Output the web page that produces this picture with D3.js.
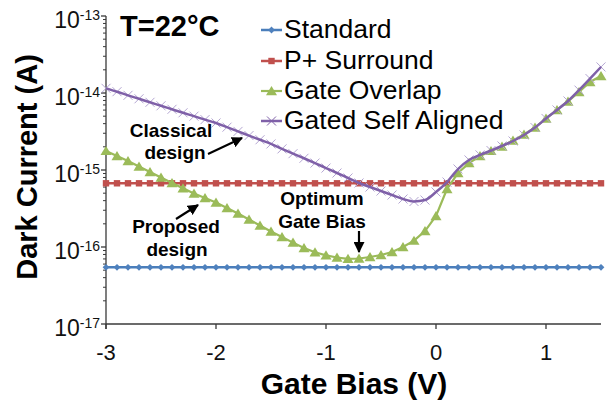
<!DOCTYPE html>
<html>
<head>
<meta charset="utf-8">
<script src="https://cdn.jsdelivr.net/npm/d3@7"></script>
<style>
  html, body { margin: 0; padding: 0; background: #fff; }
  svg { display: block; font-family: "Liberation Sans", Arial, sans-serif; }
</style>
</head>
<body>
<svg id="chart" width="615" height="405"></svg>
<script>
// ---- data ----
const biasV = [-3.0,-2.9,-2.8,-2.7,-2.6,-2.5,-2.4,-2.3,-2.2,-2.1,
               -2.0,-1.9,-1.8,-1.7,-1.6,-1.5,-1.4,-1.3,-1.2,-1.1,
               -1.0,-0.9,-0.8,-0.7,-0.6,-0.5,-0.4,-0.3,-0.2,-0.1,
                0.0, 0.1, 0.2, 0.3, 0.4, 0.5, 0.6, 0.7, 0.8, 0.9,
                1.0, 1.1, 1.2, 1.3, 1.4, 1.5];

const standard = [5.45e-17,5.45e-17,5.45e-17,5.45e-17,5.45e-17,5.45e-17,5.45e-17,5.45e-17,5.45e-17,5.45e-17,
                  5.45e-17,5.45e-17,5.45e-17,5.45e-17,5.45e-17,5.45e-17,5.45e-17,5.45e-17,5.45e-17,5.45e-17,
                  5.45e-17,5.45e-17,5.45e-17,5.45e-17,5.45e-17,5.45e-17,5.45e-17,5.45e-17,5.45e-17,5.45e-17,
                  5.45e-17,5.45e-17,5.45e-17,5.45e-17,5.45e-17,5.45e-17,5.45e-17,5.45e-17,5.45e-17,5.45e-17,
                  5.45e-17,5.45e-17,5.45e-17,5.45e-17,5.45e-17,5.45e-17];

const pSurround = [6.72e-16,6.72e-16,6.72e-16,6.72e-16,6.72e-16,6.72e-16,6.72e-16,6.72e-16,6.72e-16,6.72e-16,
                   6.72e-16,6.72e-16,6.72e-16,6.72e-16,6.72e-16,6.72e-16,6.72e-16,6.72e-16,6.72e-16,6.72e-16,
                   6.72e-16,6.72e-16,6.72e-16,6.72e-16,6.72e-16,6.72e-16,6.72e-16,6.72e-16,6.72e-16,6.72e-16,
                   6.72e-16,6.72e-16,6.72e-16,6.72e-16,6.72e-16,6.72e-16,6.72e-16,6.72e-16,6.72e-16,6.72e-16,
                   6.72e-16,6.72e-16,6.72e-16,6.72e-16,6.72e-16,6.72e-16];

const gateOverlap = [1.77e-15,1.52e-15,1.31e-15,1.11e-15,9.42e-16,7.99e-16,6.78e-16,5.78e-16,4.95e-16,4.33e-16,
                     3.78e-16,3.21e-16,2.72e-16,2.28e-16,1.90e-16,1.59e-16,1.35e-16,1.14e-16,9.70e-17,8.53e-17,
                     7.80e-17,7.31e-17,7.03e-17,7.09e-17,7.42e-17,7.87e-17,8.61e-17,1.00e-16,1.21e-16,1.61e-16,
                     2.53e-16,5.67e-16,9.14e-16,1.23e-15,1.52e-15,1.77e-15,2.02e-15,2.42e-15,2.89e-15,3.56e-15,
                     4.66e-15,6.02e-15,7.76e-15,1.03e-14,1.39e-14,1.66e-14];

const gatedSelfAligned = [1.15e-14,1.04e-14,9.33e-15,8.41e-15,7.57e-15,6.82e-15,6.14e-15,5.53e-15,5.00e-15,4.51e-15,
                          4.08e-15,3.60e-15,3.17e-15,2.80e-15,2.47e-15,2.18e-15,1.88e-15,1.63e-15,1.42e-15,1.23e-15,
                          1.06e-15,9.14e-16,7.87e-16,6.78e-16,6.01e-16,5.33e-16,4.73e-16,4.20e-16,3.90e-16,4.07e-16,
                          5.18e-16,6.98e-16,1.03e-15,1.35e-15,1.57e-15,1.79e-15,2.05e-15,2.38e-15,2.85e-15,3.56e-15,
                          4.67e-15,6.02e-15,7.87e-15,1.09e-14,1.54e-14,2.18e-14];

const seriesNames = ["Standard", "P+ Surround", "Gate Overlap", "Gated Self Aligned"];
const xTicks = [-3, -2, -1, 0, 1];
const xTickLabels = ["-3", "-2", "-1", "0", "1"];
const yTicks = [1e-17, 1e-16, 1e-15, 1e-14, 1e-13];
const yTickExponents = ["-17", "-16", "-15", "-14", "-13"];
const xTitle = "Gate Bias (V)";
const yTitle = "Dark Current (A)";
const tempLabel = "T=22°C";

// ---- layout ----
const svg = d3.select("#chart");
const x = d3.scaleLinear().domain([-3, 1.5]).range([106, 601]);
const y = d3.scaleLog().domain([1e-17, 1e-13]).range([324, 16]);

const defs = svg.append("defs");
defs.append("marker").attr("id", "arrowhead")
  .attr("viewBox", "0 0 10 10").attr("refX", 9).attr("refY", 5)
  .attr("markerWidth", 5).attr("markerHeight", 5).attr("orient", "auto")
  .append("path").attr("d", "M0,0 L10,5 L0,10 Z").attr("fill", "#000");

// ---- axes ----
const axisColor = "#3a3a3a";
const minorVals = [];
for (let e = -17; e < -13; e++) for (let m = 2; m <= 9; m++) minorVals.push(m * Math.pow(10, e));
const yAxis = svg.append("g");
yAxis.append("line").attr("x1", x(-3)).attr("x2", x(-3)).attr("y1", y(1e-13)).attr("y2", y(1e-17) + 5)
  .attr("stroke", axisColor).attr("stroke-width", 1.3);
yAxis.selectAll("line.minor").data(minorVals).enter().append("line").attr("class", "minor")
  .attr("x1", x(-3) - 3).attr("x2", x(-3)).attr("y1", d => y(d)).attr("y2", d => y(d))
  .attr("stroke", axisColor).attr("stroke-width", 1);
yAxis.selectAll("line.major").data(yTicks).enter().append("line").attr("class", "major")
  .attr("x1", x(-3) - 5).attr("x2", x(-3)).attr("y1", d => y(d)).attr("y2", d => y(d))
  .attr("stroke", axisColor).attr("stroke-width", 1.3);
const yLab = yAxis.selectAll("text.ylab").data(yTicks).enter().append("text").attr("class", "ylab")
  .attr("x", 100).attr("y", d => y(d) + 12).attr("text-anchor", "end")
  .attr("font-size", 23).attr("fill", "#111");
yLab.append("tspan").text("10");
yLab.append("tspan").attr("dy", -8).attr("font-size", 14).text((d, i) => yTickExponents[i]);

// x axis
const xAxis = svg.append("g");
xAxis.append("line").attr("x1", x(-3)).attr("x2", x(1.5)).attr("y1", y(1e-17)).attr("y2", y(1e-17))
  .attr("stroke", axisColor).attr("stroke-width", 1.3);
xAxis.selectAll("line.xt").data(xTicks).enter().append("line").attr("class", "xt")
  .attr("x1", d => x(d)).attr("x2", d => x(d)).attr("y1", y(1e-17)).attr("y2", y(1e-17) + 5)
  .attr("stroke", axisColor).attr("stroke-width", 1.3);
xAxis.selectAll("text.xl").data(xTicks).enter().append("text").attr("class", "xl")
  .attr("x", d => x(d)).attr("y", 360).attr("text-anchor", "middle")
  .attr("font-size", 22).attr("fill", "#111").text((d, i) => xTickLabels[i]);

// titles
svg.append("text").attr("x", 354).attr("y", 394).attr("text-anchor", "middle")
  .attr("font-size", 30).attr("font-weight", "bold").attr("fill", "#000").text(xTitle);
svg.append("text").attr("transform", "translate(37,167) rotate(-90)").attr("text-anchor", "middle")
  .attr("font-size", 29).attr("font-weight", "bold").attr("fill", "#000").text(yTitle);
svg.append("text").attr("x", 120).attr("y", 36).attr("font-size", 29).attr("font-weight", "bold")
  .attr("fill", "#000").text(tempLabel);

// ---- series ----
const markerPaths = {
  diamond: "M0,-3.4L3.4,0L0,3.4L-3.4,0Z",
  square: "M-3.2,-3.2H3.2V3.2H-3.2Z",
  triangle: "M0,-5L5.5,4.2L-5.5,4.2Z",
  cross: "M-4.5,-4.5L4.5,4.5M-4.5,4.5L4.5,-4.5"
};
const series = [
  { name: seriesNames[0], vals: standard, line: "#4a7ebb", mark: "#4f81bd", shape: "diamond", lw: 2.5, curve: d3.curveLinear },
  { name: seriesNames[1], vals: pSurround, line: "#c0504d", mark: "#c0504d", shape: "square", lw: 2.5, curve: d3.curveLinear },
  { name: seriesNames[2], vals: gateOverlap, line: "#9bbb59", mark: "#9bbb59", shape: "triangle", lw: 2.2, curve: d3.curveLinear },
  { name: seriesNames[3], vals: gatedSelfAligned, line: "#7f60a8", mark: "#b4a6d2", shape: "cross", lw: 2.5, curve: d3.curveMonotoneX }
];

function drawMarker(g, shape, color) {
  if (shape === "cross") {
    g.append("path").attr("d", markerPaths.cross).attr("fill", "none").attr("stroke", color).attr("stroke-width", 1);
  } else {
    g.append("path").attr("d", markerPaths[shape]).attr("fill", color);
  }
}

series.forEach(s => {
  const pts = biasV.map((v, i) => [v, s.vals[i]]);
  const g = svg.append("g");
  const lineGen = d3.line().x(d => x(d[0])).y(d => y(d[1])).curve(s.curve);
  if (s.shape === "cross") {
    pts.forEach(p => {
      const mg = g.append("g").attr("transform", `translate(${x(p[0])},${y(p[1])})`);
      drawMarker(mg, s.shape, s.mark);
    });
    g.append("path").datum(pts).attr("d", lineGen).attr("fill", "none")
      .attr("stroke", s.line).attr("stroke-width", s.lw);
  } else {
    g.append("path").datum(pts).attr("d", lineGen).attr("fill", "none")
      .attr("stroke", s.line).attr("stroke-width", s.lw);
    pts.forEach(p => {
      const mg = g.append("g").attr("transform", `translate(${x(p[0])},${y(p[1])})`);
      drawMarker(mg, s.shape, s.mark);
    });
  }
});

// ---- legend ----
const legendRows = [30, 61, 91, 121];
series.forEach((s, i) => {
  const g = svg.append("g").attr("transform", `translate(0,${legendRows[i]})`);
  g.append("line").attr("x1", 261).attr("x2", 282).attr("y1", 0).attr("y2", 0)
    .attr("stroke", s.line).attr("stroke-width", s.lw);
  const mg = g.append("g").attr("transform", "translate(271.5,0)");
  drawMarker(mg, s.shape, s.shape === "cross" ? s.line : s.mark);
  g.append("text").attr("x", 284).attr("y", 8).attr("font-size", 26.5).attr("fill", "#000").text(s.name);
});

// ---- annotations ----
const ann = svg.append("g").attr("font-weight", "bold").attr("font-size", 19).attr("fill", "#000")
  .attr("text-anchor", "middle");
ann.append("text").attr("x", 171).attr("y", 137).text("Classical");
ann.append("text").attr("x", 175).attr("y", 159).text("design");
ann.append("text").attr("x", 176).attr("y", 233).text("Proposed");
ann.append("text").attr("x", 177).attr("y", 256).text("design");
ann.append("text").attr("x", 322).attr("y", 205).text("Optimum");
ann.append("text").attr("x", 322).attr("y", 228).text("Gate Bias");

const arrows = [
  [208, 154, 242, 138],
  [176, 219, 198, 205],
  [359, 231, 359, 252]
];
svg.append("g").selectAll("line").data(arrows).enter().append("line")
  .attr("x1", d => d[0]).attr("y1", d => d[1]).attr("x2", d => d[2]).attr("y2", d => d[3])
  .attr("stroke", "#000").attr("stroke-width", 2.2).attr("marker-end", "url(#arrowhead)");
</script>
</body>
</html>
